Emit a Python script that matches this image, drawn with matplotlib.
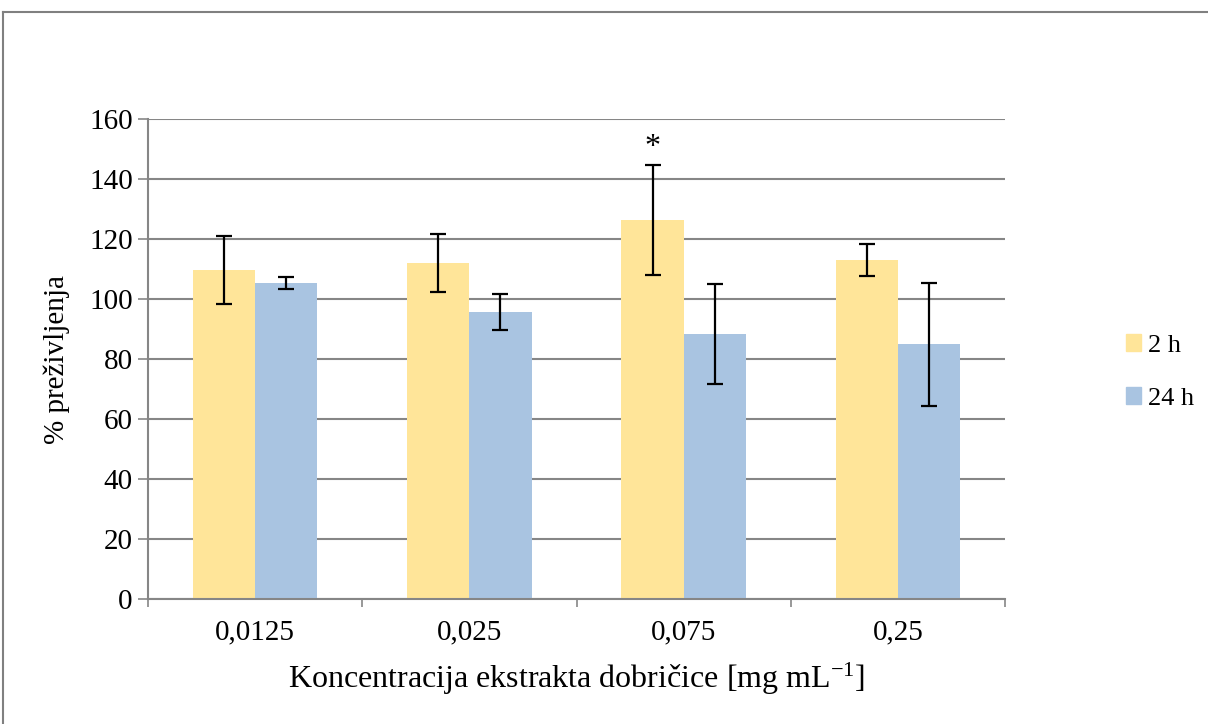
import matplotlib
matplotlib.use("Agg")
import matplotlib.pyplot as plt
import numpy as np
from matplotlib.lines import Line2D

plt.rcParams['font.family'] = ['Liberation Serif', 'DejaVu Serif']
plt.rcParams['mathtext.fontset'] = 'custom'
plt.rcParams['mathtext.rm'] = 'Liberation Serif'
plt.rcParams['mathtext.it'] = 'Liberation Serif:italic'

categories = ['0,0125', '0,025', '0,075', '0,25']
series_names = ['2 h', '24 h']
vals_2h = [109.7, 112.0, 126.3, 113.0]
err_2h = [11.3, 9.6, 18.4, 5.3]
vals_24h = [105.3, 95.7, 88.3, 84.9]
err_24h = [1.9, 6.1, 16.7, 20.4]
yticks = [0, 20, 40, 60, 80, 100, 120, 140, 160]
star_index = 2

c_2h = '#FFE599'
c_24h = '#A9C4E1'
grid_c = '#868686'

fig = plt.figure(figsize=(12.08, 7.24), dpi=100)
ax = fig.add_axes([148/1208, 1-599/724, (1005-148)/1208, (599-119)/724])

x = np.arange(len(categories))
w = 0.29
ax.bar(x - w/2, vals_2h, w, color=c_2h, label=series_names[0], zorder=2)
ax.bar(x + w/2, vals_24h, w, color=c_24h, label=series_names[1], zorder=2)
ekw = dict(fmt='none', ecolor='black', elinewidth=1.6, capsize=5.5, capthick=1.6, zorder=3)
ax.errorbar(x - w/2, vals_2h, yerr=err_2h, **ekw)
ax.errorbar(x + w/2, vals_24h, yerr=err_24h, **ekw)

ax.text(x[star_index] - w/2, vals_2h[star_index] + err_2h[star_index] + 0.8, '*',
        ha='center', va='bottom', fontsize=23)

ax.set_xlim(-0.5, len(categories) - 0.5)
ax.set_ylim(0, 160)
ax.set_yticks(yticks)
ax.set_yticklabels([str(t) for t in yticks], fontsize=21)
ax.yaxis.grid(True, color=grid_c, linewidth=1.5, zorder=0)
ax.set_axisbelow(True)

ax.set_xticks(x)
ax.set_xticklabels(categories, fontsize=21)
ax.tick_params(axis='x', length=0, pad=15)
ax.set_xticks(np.arange(len(categories) + 1) - 0.5, minor=True)
ax.tick_params(axis='x', which='minor', length=6, width=1.2, color=grid_c)
ax.tick_params(axis='y', length=7, width=1.2, color=grid_c, pad=4)

for s in ['top', 'right']:
    ax.spines[s].set_visible(False)
for s in ['left', 'bottom']:
    ax.spines[s].set_color(grid_c)
    ax.spines[s].set_linewidth(1.5)

ax.set_ylabel('% preživljenja', fontsize=21, labelpad=14)
ax.set_xlabel('Koncentracija ekstrakta dobričice [mg mL$^{\\mathrm{-1}}$]', fontsize=23, labelpad=11)

handles = [plt.Rectangle((0, 0), 1, 1, color=c_2h), plt.Rectangle((0, 0), 1, 1, color=c_24h)]
fig.legend(handles, series_names, loc='center left', bbox_to_anchor=(1126/1208, 1-372/724),
           frameon=False, fontsize=19, handlelength=0.55, handleheight=0.6,
           handletextpad=0.3, labelspacing=1.15, borderaxespad=0, borderpad=0)

# outer border
fig.add_artist(Line2D([3/1208, 1.0], [1-12/724, 1-12/724], transform=fig.transFigure,
                      color='#808080', linewidth=1.5))
fig.add_artist(Line2D([3/1208, 3/1208], [0, 1-12/724], transform=fig.transFigure,
                      color='#808080', linewidth=1.5))

fig.savefig('out.png', dpi=100)
